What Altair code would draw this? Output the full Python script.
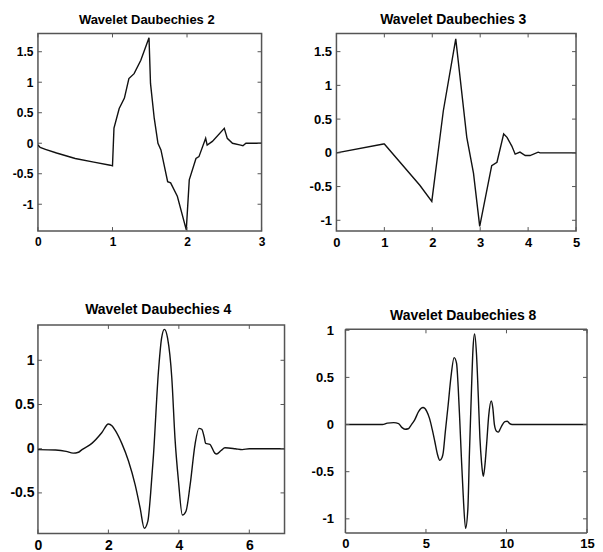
import altair as alt
import pandas as pd

FONT = "Liberation Sans"

# ---------------- data ----------------
db2_x = [0, 0.03, 0.1, 0.25, 0.5, 0.75, 0.97, 1.0, 1.02, 1.09, 1.16, 1.22, 1.29, 1.38, 1.49,
         1.51, 1.56, 1.61, 1.65, 1.74, 1.78, 1.87, 1.99, 2.03, 2.12, 2.16, 2.25, 2.27, 2.34,
         2.5, 2.54, 2.61, 2.72, 2.75, 2.79, 3.0]
db2_y = [-0.03, -0.07, -0.1, -0.16, -0.25, -0.31, -0.36, -0.37, 0.25, 0.57, 0.74, 1.06, 1.14,
         1.36, 1.73, 0.98, 0.41, 0.0, -0.11, -0.63, -0.65, -0.87, -1.42, -0.6, -0.25, -0.22,
         0.08, -0.03, 0.03, 0.245, 0.08, 0.0, -0.03, -0.04, 0.0, 0.0]

db3_x = [0, 0.98, 1.0, 1.74, 1.99, 2.23, 2.49, 2.72, 2.86, 2.99, 3.24, 3.35, 3.49, 3.56, 3.66,
         3.73, 3.83, 3.94, 4.04, 4.21, 4.25, 5.0]
db3_y = [0, 0.13, 0.13, -0.48, -0.72, 0.62, 1.69, 0.23, -0.3, -1.09, -0.19, -0.14, 0.28, 0.23,
         0.1, -0.02, 0.01, -0.04, -0.04, 0.01, 0.0, 0.0]

db4_x = [0, 0.5, 0.8, 1.0, 1.15, 1.25, 1.53, 1.81, 2.0, 2.1, 2.19, 2.38, 2.57, 2.76, 2.9, 3.02,
         3.12, 3.2, 3.28, 3.42, 3.51, 3.59, 3.68, 3.8, 3.89, 3.99, 4.1, 4.2, 4.32, 4.46, 4.57,
         4.65, 4.72, 4.76, 4.88, 5.02, 5.07, 5.2, 5.31, 5.6, 5.8, 6.0, 7.0]
db4_y = [-0.01, -0.015, -0.03, -0.05, -0.04, -0.01, 0.06, 0.18, 0.28, 0.26, 0.21, 0.06, -0.14,
         -0.41, -0.67, -0.9, -0.82, -0.5, -0.07, 0.87, 1.25, 1.35, 1.25, 0.8, 0.12, -0.37, -0.75,
         -0.71, -0.41, 0.05, 0.23, 0.22, 0.13, 0.06, 0.05, -0.05, -0.06, -0.02, 0.01, 0.0, -0.01,
         0.0, 0.0]

db8_x = [0, 2.3, 2.6, 3.0, 3.3, 3.5, 3.7, 3.9, 4.1, 4.3, 4.55, 4.82, 5.05, 5.23, 5.4, 5.55, 5.72,
         5.86, 6.0, 6.07, 6.2, 6.38, 6.55, 6.75, 6.9, 7.0, 7.1, 7.2, 7.31, 7.46, 7.6, 7.7, 7.83,
         7.92, 8.02, 8.14, 8.25, 8.35, 8.45, 8.56, 8.65, 8.77, 8.9, 9.05, 9.15, 9.25, 9.38, 9.5,
         9.6, 9.75, 9.9, 10.05, 10.2, 10.35, 15.0]
db8_y = [0, 0, 0.015, 0.02, 0.01, -0.03, -0.05, -0.045, 0.0, 0.05, 0.14, 0.18, 0.14, 0.06, -0.06,
         -0.18, -0.32, -0.38, -0.35, -0.3, -0.08, 0.21, 0.5, 0.71, 0.65, 0.4, 0.04, -0.35, -0.74,
         -1.1, -0.9, -0.3, 0.39, 0.8, 0.96, 0.74, 0.3, -0.14, -0.4, -0.55, -0.45, -0.2, 0.1, 0.25,
         0.18, 0.0, -0.07, -0.08, -0.05, 0.0, 0.03, 0.035, 0.01, 0.0, 0.0]

titles = ["Wavelet Daubechies 2", "Wavelet Daubechies 3", "Wavelet Daubechies 4", "Wavelet Daubechies 8"]
xticks = [[0, 1, 2, 3], [0, 1, 2, 3, 4, 5], [0, 2, 4, 6], [0, 5, 10, 15]]
yticks = [[-1, -0.5, 0, 0.5, 1, 1.5], [-1, -0.5, 0, 0.5, 1, 1.5], [-0.5, 0, 0.5, 1], [-1, -0.5, 0, 0.5, 1]]
xdoms = [[0, 3], [0, 5], [0, 7], [0, 15]]
ydoms = [[-1.44, 1.80], [-1.16, 1.77], [-0.96, 1.40], [-1.15, 1.01]]

TL = 4            # inward tick length
FRAME = "#555555"


def panel(i, xs, ys, w, h, interp, lab_size, title_size, title_offset, ylab_pad, xlab_pad,
          extra_left=None, inset_top=0.0):
    df = pd.DataFrame({"x": xs, "y": ys})
    xsc = alt.Scale(domain=xdoms[i], nice=False, zero=False)
    if inset_top:
        ysc = alt.Scale(domain=ydoms[i], nice=False, zero=False, range=[h, inset_top])
    else:
        ysc = alt.Scale(domain=ydoms[i], nice=False, zero=False)
    common = dict(title=None, grid=False, ticks=False, tickSize=0, domain=False, labelFont=FONT,
                  labelFontSize=lab_size, labelFontWeight="bold", labelColor="#000000",
                  labelFlush=False, labelOverlap=False, labelExpr="datum.value + ''")
    xax = alt.Axis(values=xticks[i], labelPadding=xlab_pad, **common)
    yax = alt.Axis(values=yticks[i], labelPadding=ylab_pad, **common)
    line = alt.Chart(df).mark_line(color="#111111", strokeWidth=1.4, interpolate=interp, clip=True).encode(
        x=alt.X("x:Q", scale=xsc, axis=xax),
        y=alt.Y("y:Q", scale=ysc, axis=yax),
    )
    ty = pd.DataFrame({"y": yticks[i]})
    tx = pd.DataFrame({"x": xticks[i]})
    rc = dict(color=FRAME, strokeWidth=1)
    top_y = inset_top
    left = alt.Chart(ty).mark_rule(**rc).encode(
        y=alt.Y("y:Q", scale=ysc, axis=yax), x=alt.value(0), x2=alt.value(TL))
    right = alt.Chart(ty).mark_rule(**rc).encode(
        y=alt.Y("y:Q", scale=ysc, axis=yax), x=alt.value(w - TL), x2=alt.value(w))
    bottom = alt.Chart(tx).mark_rule(**rc).encode(
        x=alt.X("x:Q", scale=xsc, axis=xax), y=alt.value(h - TL), y2=alt.value(h))
    top = alt.Chart(tx).mark_rule(**rc).encode(
        x=alt.X("x:Q", scale=xsc, axis=xax), y=alt.value(top_y), y2=alt.value(top_y + TL))
    layers = [line, left, right, bottom, top]
    if inset_top:
        fc = dict(color=FRAME, strokeWidth=1.5)
        one = pd.DataFrame({"k": [0]})
        layers += [
            alt.Chart(one).mark_rule(**fc).encode(x=alt.value(0), x2=alt.value(w), y=alt.value(top_y)),
            alt.Chart(one).mark_rule(**fc).encode(x=alt.value(0), x2=alt.value(w), y=alt.value(h)),
            alt.Chart(one).mark_rule(**fc).encode(x=alt.value(0), y=alt.value(top_y), y2=alt.value(h)),
            alt.Chart(one).mark_rule(**fc).encode(x=alt.value(w), y=alt.value(top_y), y2=alt.value(h)),
        ]
    if extra_left is not None:
        pad = alt.Chart(pd.DataFrame({"t": ["."]})).mark_text(
            opacity=0, align="left", baseline="top", fontSize=2).encode(
            text="t:N", x=alt.value(extra_left), y=alt.value(0))
        layers.append(pad)
    props = dict(
        width=w, height=h,
        title=alt.TitleParams(titles[i], font=FONT, fontSize=title_size, fontWeight="bold",
                              color="#000000", offset=title_offset, anchor="middle", frame="group", dx=-3),
    )
    if inset_top:
        props["view"] = alt.ViewBackground(stroke="transparent")
    return alt.layer(*layers).properties(**props)


p1 = panel(0, db2_x, db2_y, 224, 198, "linear", 12, 13, 6, 5, 5, extra_left=-29)
p2 = panel(1, db3_x, db3_y, 240, 198, "linear", 13, 14, 6, 5, 5)
p3 = panel(2, db4_x, db4_y, 247, 209, "monotone", 14, 14, 7.3, 4, 5)
p4 = panel(3, db8_x, db8_y, 242, 208.4, "monotone", 13, 14, 1.5, 12, 5, inset_top=4.4)

row1 = alt.hconcat(p1, p2, spacing=41)
row2 = alt.hconcat(p3, p4, spacing=23)

chart = alt.vconcat(row1, row2, spacing=52).properties(
    padding={"left": 0, "top": 3, "right": 0, "bottom": 0},
    background="white",
).configure_view(stroke=FRAME, strokeWidth=1.5)

chart.save("out.html", embed_options={"renderer": "svg", "actions": False})
